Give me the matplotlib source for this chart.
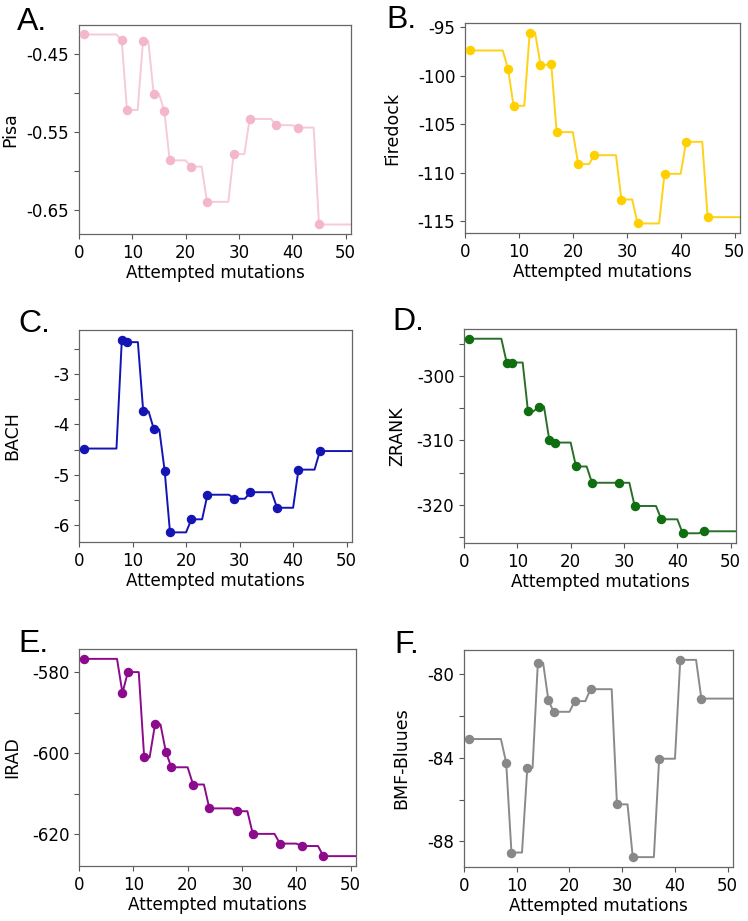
import numpy as np
import matplotlib
matplotlib.use("Agg")
import matplotlib.pyplot as plt

# ---- data ----
attempts = [1, 8, 9, 12, 14, 16, 17, 21, 24, 29, 32, 37, 41, 45]
x_end = 51

pisa = [-0.425, -0.432, -0.5215, -0.4335, -0.501, -0.523, -0.586, -0.594,
        -0.639, -0.578, -0.533, -0.541, -0.544, -0.668]
firedock = [-97.4, -99.33, -103.1, -95.55, -98.88, -98.81, -105.82, -109.12,
            -108.2, -112.77, -115.24, -110.12, -106.82, -114.59]
bach = [-4.48, -2.31, -2.36, -3.74, -4.10, -4.92, -6.15, -5.89,
        -5.40, -5.48, -5.35, -5.66, -4.90, -4.53]
zrank = [-294.2, -297.9, -297.9, -305.5, -304.75, -309.97, -310.34, -314.06,
         -316.59, -316.59, -320.2, -322.27, -324.44, -324.13]
irad = [-576.65, -585.07, -579.92, -601.0, -592.84, -599.67, -603.44, -607.7,
        -613.6, -614.3, -619.9, -622.3, -622.9, -625.4]
bmf = [-83.11, -84.25, -88.53, -84.49, -79.47, -81.26, -81.81, -81.30,
       -80.73, -86.23, -88.75, -84.05, -79.33, -81.18]

panel_letters = ["A.", "B.", "C.", "D.", "E.", "F."]
ylabels = ["Pisa", "Firedock", "BACH", "ZRANK", "IRAD", "BMF-Bluues"]
colors = ["#f4b6c9", "#ffd000", "#1414b4", "#0f6e0f", "#8c0a8c", "#888888"]
line_colors = ["#f7cad8", "#ffd21a", "#1414b4", "#2a6e2a", "#8c0a8c", "#8a8a8a"]

yticks = [
    [-0.45, -0.50, -0.55, -0.60, -0.65],
    [-95, -100, -105, -110, -115],
    [-2.5, -3, -3.5, -4, -4.5, -5, -5.5, -6],
    [-295, -300, -305, -310, -315, -320, -325],
    [-580, -590, -600, -610, -620],
    [-80, -82, -84, -86, -88],
]
ytick_labels = [
    ["-0.45", "", "-0.55", "", "-0.65"],
    ["-95", "-100", "-105", "-110", "-115"],
    ["", "-3", "", "-4", "", "-5", "", "-6"],
    ["", "-300", "", "-310", "", "-320", ""],
    ["-580", "", "-600", "", "-620"],
    ["-80", "", "-84", "", "-88"],
]
xticks = [0, 10, 20, 30, 40, 50]
series = [pisa, firedock, bach, zrank, irad, bmf]

# ---- layout (pixels: left, right, top, bottom) ----
W, H = 748, 921
boxes = [
    (79, 351, 25, 234),
    (465, 740, 23, 233),
    (79, 352, 330, 542),
    (464, 736, 329, 543),
    (79, 356, 649, 866),
    (464, 733, 650, 867),
]
letter_pos = [(17, 30), (386, 28), (18, 332), (392, 330), (18, 652), (394, 653)]
ylabel_x = [10, 392, 12, 397, 12, 401]

fig = plt.figure(figsize=(W / 100, H / 100), dpi=100)

for i in range(6):
    l, r, t, b = boxes[i]
    ax = fig.add_axes([l / W, 1 - b / H, (r - l) / W, (b - t) / H])
    xs = np.array(attempts)
    vals = np.array(series[i])
    grid = np.arange(1, x_end + 1)
    idx = np.searchsorted(xs, grid, side="right") - 1
    ax.plot(grid, vals[idx], color=line_colors[i], lw=1.4, zorder=2)
    ax.plot(xs, vals, "o", color=colors[i], ms=5.8, zorder=3)
    ax.set_xlim(0, 51)
    ax.set_xticks(xticks)
    ax.set_yticks(yticks[i])
    ax.set_yticklabels(ytick_labels[i])
    ax.tick_params(labelsize=12, length=3.5, width=0.8, color="#555555")
    for s in ax.spines.values():
        s.set_color("#666666")
        s.set_linewidth(0.9)
    ax.set_xlabel("Attempted mutations", fontsize=12.1, labelpad=1.5)
    lx, ly = letter_pos[i]
    fig.text(lx / W, 1 - ly / H, panel_letters[i], fontsize=23,
             family="Liberation Sans", ha="left", va="baseline")
    fig.text(ylabel_x[i] / W, 1 - ((t + b) / 2) / H, ylabels[i], rotation=90,
             fontsize=12.5, ha="center", va="center")

fig.savefig("out.png", dpi=100)
